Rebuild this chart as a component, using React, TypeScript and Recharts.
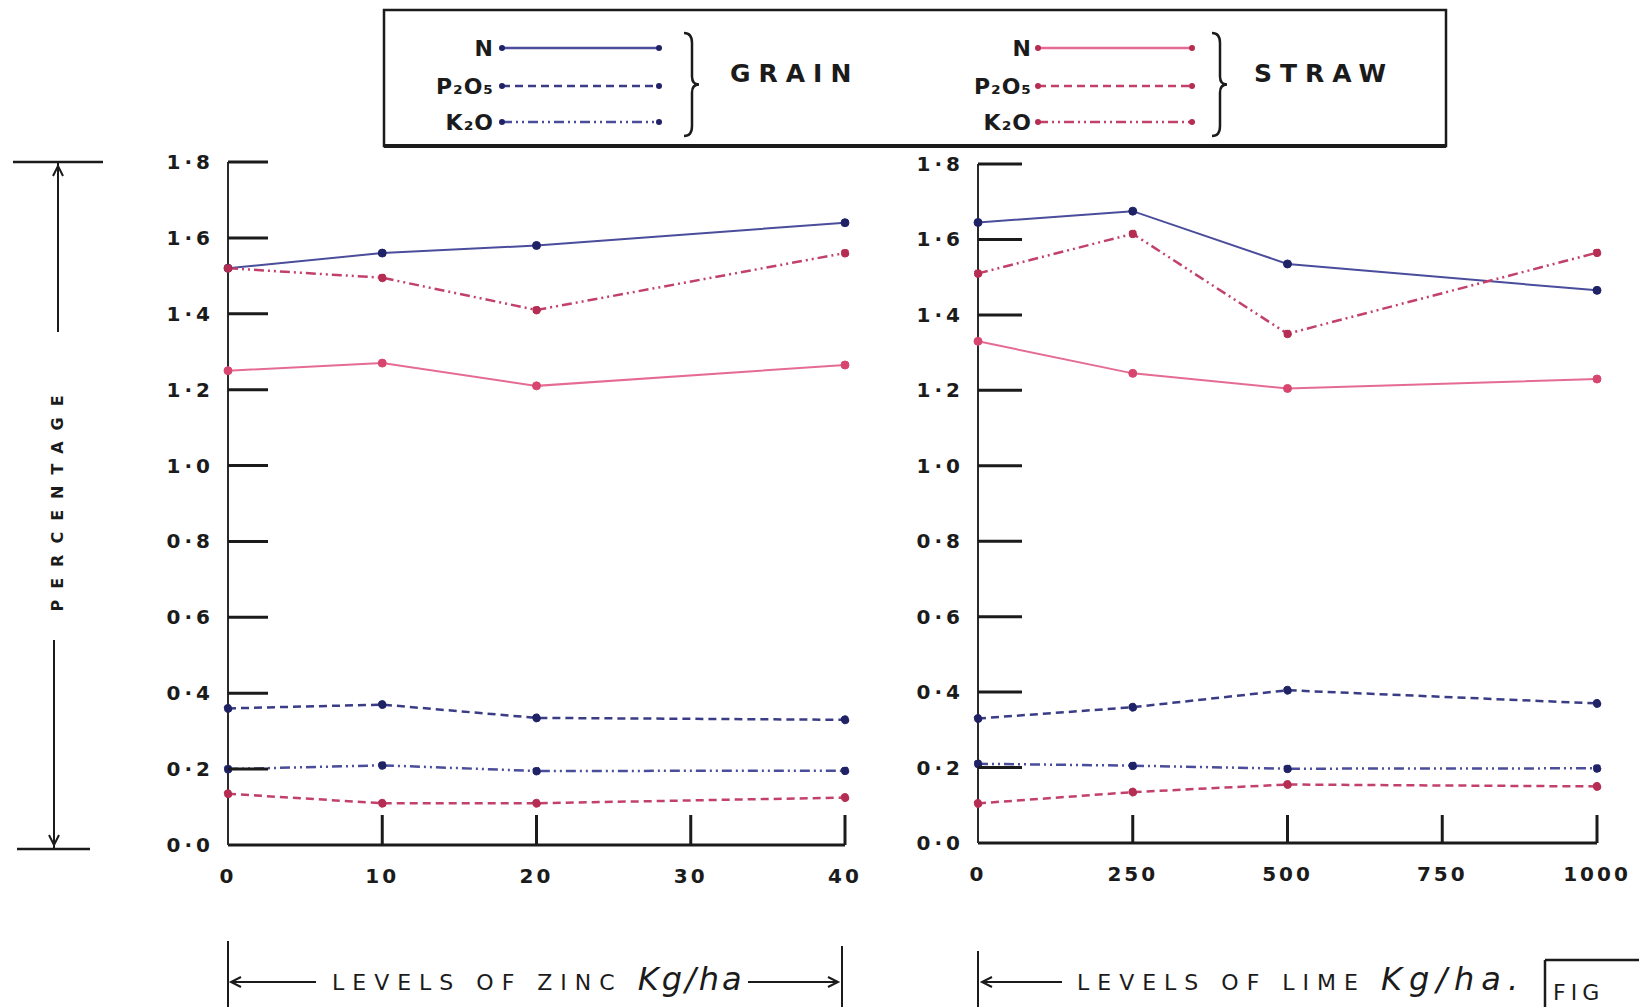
import React from 'react';
import { LineChart, Line, XAxis, YAxis } from 'recharts';

// ---------- data ----------
const zincLevels = [0, 10, 20, 40];
const zincTicks = [0, 10, 20, 30, 40];
const zincGrainN = [1.52, 1.56, 1.58, 1.64];
const zincGrainP = [0.36, 0.37, 0.335, 0.33];
const zincGrainK = [0.2, 0.21, 0.195, 0.196];
const zincStrawN = [1.25, 1.27, 1.21, 1.265];
const zincStrawP = [0.135, 0.11, 0.11, 0.125];
const zincStrawK = [1.52, 1.495, 1.41, 1.56];

const limeLevels = [0, 250, 500, 1000];
const limeTicks = [0, 250, 500, 750, 1000];
const limeGrainN = [1.645, 1.675, 1.535, 1.465];
const limeGrainP = [0.33, 0.36, 0.405, 0.37];
const limeGrainK = [0.21, 0.205, 0.197, 0.198];
const limeStrawN = [1.33, 1.245, 1.205, 1.23];
const limeStrawP = [0.105, 0.135, 0.155, 0.15];
const limeStrawK = [1.51, 1.615, 1.35, 1.565];

const yTicks = [0, 0.2, 0.4, 0.6, 0.8, 1.0, 1.2, 1.4, 1.6, 1.8];
const nutrientLabels = ['N', 'P₂O₅', 'K₂O'];

// ---------- styles ----------
const INK = '#1b1b1b';
const NAVY_LINE = '#4a4c9c';
const NAVY_DASH = '#3a3c86';
const NAVY_DOT = '#1f2366';
const PINK = '#e56b92';
const PINK_DOT = '#d8466f';
const CRIMSON = '#c2416a';
const CRIMSON_DOT = '#b52d52';
const DASH = '8 5';
const DASH_DOT = '10 4 2 4 2 4';
const FONT = '"DejaVu Sans", "Liberation Sans", sans-serif';

function buildRows(levels: number[], gN: number[], gP: number[], gK: number[], sN: number[], sP: number[], sK: number[]) {
  return levels.map((x, i) => ({ x, gN: gN[i], gP: gP[i], gK: gK[i], sN: sN[i], sP: sP[i], sK: sK[i] }));
}

const zincData = buildRows(zincLevels, zincGrainN, zincGrainP, zincGrainK, zincStrawN, zincStrawP, zincStrawK);
const limeData = buildRows(limeLevels, limeGrainN, limeGrainP, limeGrainK, limeStrawN, limeStrawP, limeStrawK);

const fmt = (v: number) => v.toFixed(1).replace('.', '·');

const YTick = (props: any) => {
  const { x, y, payload, tickLen, gap } = props;
  const axisX = x + gap;
  const v = payload.value;
  return (
    <g>
      {v > 0 && <line x1={axisX} x2={axisX + tickLen} y1={y} y2={y} stroke={INK} strokeWidth={3} />}
      <text x={x} y={y} dy="0.35em" textAnchor="end" fontFamily={FONT} fontWeight="bold" fontSize={20} letterSpacing={4} fill={INK}>
        {fmt(v)}
      </text>
    </g>
  );
};

const XTick = (props: any) => {
  const { x, y, payload, tickLen } = props;
  const v = payload.value;
  return (
    <g>
      {v > 0 && <line x1={x} x2={x} y1={y} y2={y - tickLen} stroke={INK} strokeWidth={3} />}
      <text x={x} y={y + 31} dy="0.35em" textAnchor="middle" fontFamily={FONT} fontWeight="bold" fontSize={20} letterSpacing={3} fill={INK}>
        {v}
      </text>
    </g>
  );
};

const dotStyle = (c: string) => ({ r: 4, fill: c, stroke: c, strokeWidth: 1 });

function Panel(props: { data: any[]; ticks: number[]; domainMax: number; left: number; top: number; width: number; height: number; marginTop: number; yTickLen: number; xTickLen: number }) {
  const { data, ticks, domainMax, left, top, width, height, marginTop, yTickLen, xTickLen } = props;
  return (
    <div style={{ position: 'absolute', left, top, width, height }}>
      <LineChart width={width} height={height} data={data} margin={{ top: marginTop, right: 40, bottom: 5, left: 28 }} style={{ overflow: 'visible' }}>
        <XAxis
          dataKey="x"
          type="number"
          domain={[0, domainMax]}
          ticks={ticks}
          interval={0}
          height={50}
          tickSize={0}
          tickMargin={0}
          tickLine={false}
          axisLine={{ stroke: INK, strokeWidth: 3 }}
          tick={<XTick tickLen={xTickLen} />}
        />
        <YAxis
          type="number"
          domain={[0, 1.8]}
          ticks={yTicks}
          interval={0}
          width={60}
          tickSize={0}
          tickMargin={14}
          tickLine={false}
          axisLine={{ stroke: '#2a2a2a', strokeWidth: 2 }}
          tick={<YTick tickLen={yTickLen} gap={14} />}
        />
        <Line dataKey="gN" stroke={NAVY_LINE} strokeWidth={2} dot={dotStyle(NAVY_DOT)} activeDot={false} isAnimationActive={false} />
        <Line dataKey="gP" stroke={NAVY_DASH} strokeWidth={2.5} strokeDasharray={DASH} dot={dotStyle(NAVY_DOT)} activeDot={false} isAnimationActive={false} />
        <Line dataKey="gK" stroke={NAVY_LINE} strokeWidth={2.5} strokeDasharray={DASH_DOT} dot={dotStyle(NAVY_DOT)} activeDot={false} isAnimationActive={false} />
        <Line dataKey="sN" stroke={PINK} strokeWidth={2} dot={dotStyle(PINK_DOT)} activeDot={false} isAnimationActive={false} />
        <Line dataKey="sP" stroke={CRIMSON} strokeWidth={2.5} strokeDasharray={DASH} dot={dotStyle(CRIMSON_DOT)} activeDot={false} isAnimationActive={false} />
        <Line dataKey="sK" stroke={CRIMSON} strokeWidth={2.5} strokeDasharray={DASH_DOT} dot={dotStyle(CRIMSON_DOT)} activeDot={false} isAnimationActive={false} />
      </LineChart>
    </div>
  );
}

function brace(x: number, y1: number, y2: number) {
  const m = (y1 + y2) / 2;
  return `M${x},${y1} Q${x + 8},${y1} ${x + 8},${y1 + 10} L${x + 8},${m - 8} Q${x + 8},${m} ${x + 15},${m} Q${x + 8},${m} ${x + 8},${m + 8} L${x + 8},${y2 - 10} Q${x + 8},${y2} ${x},${y2}`;
}

function LegendGroup(props: { labelX: number; x1: number; x2: number; braceX: number; title: string; titleX: number; colors: string[]; dots: string[] }) {
  const { labelX, x1, x2, braceX, title, titleX, colors, dots } = props;
  const rows = [48, 86, 122];
  const dashes = [undefined, DASH, DASH_DOT];
  return (
    <g>
      {nutrientLabels.map((lab, i) => (
        <g key={lab}>
          <text x={labelX} y={rows[i]} dy="0.35em" textAnchor="end" fontFamily={FONT} fontWeight="bold" fontSize={22} letterSpacing={1} fill={INK}>{lab}</text>
          <line x1={x1} x2={x2} y1={rows[i]} y2={rows[i]} stroke={colors[i]} strokeWidth={2.5} strokeDasharray={dashes[i]} />
          <circle cx={x1} cy={rows[i]} r={3} fill={dots[i]} />
          <circle cx={x2} cy={rows[i]} r={3} fill={dots[i]} />
        </g>
      ))}
      <path d={brace(braceX, 33, 136)} fill="none" stroke={INK} strokeWidth={2.5} />
      <text x={titleX} y={73} dy="0.35em" fontFamily={FONT} fontWeight="bold" fontSize={25} letterSpacing={8} fill={INK}>{title}</text>
    </g>
  );
}

function Decorations() {
  return (
    <svg width={1639} height={1007} style={{ position: 'absolute', left: 0, top: 0, pointerEvents: 'none' }}>
      {/* legend box */}
      <rect x={384} y={10} width={1062} height={136} fill="none" stroke={INK} strokeWidth={2.5} />
      <line x1={384} x2={1446} y1={146} y2={146} stroke={INK} strokeWidth={4} />
      <LegendGroup labelX={494} x1={502} x2={659} braceX={684} title="GRAIN" titleX={730} colors={[NAVY_LINE, NAVY_DASH, NAVY_LINE]} dots={[NAVY_DOT, NAVY_DOT, NAVY_DOT]} />
      <LegendGroup labelX={1032} x1={1038} x2={1192} braceX={1212} title="STRAW" titleX={1254} colors={[PINK, CRIMSON, CRIMSON]} dots={[CRIMSON_DOT, CRIMSON_DOT, CRIMSON_DOT]} />

      {/* percentage label */}
      <line x1={13} x2={103} y1={162} y2={162} stroke={INK} strokeWidth={2.5} />
      <line x1={58} x2={58} y1={163} y2={332} stroke={INK} strokeWidth={2} />
      <path d="M53,176 L58,166 L63,176" fill="none" stroke={INK} strokeWidth={2} />
      <line x1={54} x2={54} y1={640} y2={849} stroke={INK} strokeWidth={2} />
      <path d="M49,835 L54,845 L59,835" fill="none" stroke={INK} strokeWidth={2} />
      <line x1={17} x2={90} y1={849} y2={849} stroke={INK} strokeWidth={2.5} />
      <text x={57} y={498} transform="rotate(-90 57 498)" textAnchor="middle" dy="0.35em" fontFamily={FONT} fontWeight="bold" fontSize={16} letterSpacing={11} fill={INK}>PERCENTAGE</text>

      {/* zinc axis title */}
      <line x1={228} x2={228} y1={941} y2={1007} stroke={INK} strokeWidth={2} />
      <line x1={842} x2={842} y1={946} y2={1007} stroke={INK} strokeWidth={2} />
      <line x1={231} x2={316} y1={982} y2={982} stroke={INK} strokeWidth={2} />
      <path d="M241,977 L231,982 L241,987" fill="none" stroke={INK} strokeWidth={2} />
      <text x={332} y={982} dy="0.35em" fontFamily={FONT} fontSize={22} letterSpacing={8} fill={INK}>
        LEVELS OF ZINC <tspan fontSize={32} fontStyle="italic" letterSpacing={3}>Kg/ha</tspan>
      </text>
      <line x1={748} x2={838} y1={982} y2={982} stroke={INK} strokeWidth={2} />
      <path d="M828,977 L838,982 L828,987" fill="none" stroke={INK} strokeWidth={2} />

      {/* lime axis title */}
      <line x1={978} x2={978} y1={951} y2={1007} stroke={INK} strokeWidth={2} />
      <line x1={982} x2={1062} y1={982} y2={982} stroke={INK} strokeWidth={2} />
      <path d="M992,977 L982,982 L992,987" fill="none" stroke={INK} strokeWidth={2} />
      <text x={1077} y={982} dy="0.35em" fontFamily={FONT} fontSize={22} letterSpacing={8} fill={INK}>
        LEVELS OF LIME <tspan fontSize={32} fontStyle="italic" letterSpacing={7}>Kg/ha.</tspan>
      </text>

      {/* FIG box */}
      <line x1={1545} x2={1639} y1={960} y2={960} stroke={INK} strokeWidth={2.5} />
      <line x1={1545} x2={1545} y1={960} y2={1007} stroke={INK} strokeWidth={2.5} />
      <text x={1553} y={992} dy="0.35em" fontFamily={FONT} fontSize={22} letterSpacing={5} fill={INK}>FIG</text>
    </svg>
  );
}

export default function App() {
  return (
    <div style={{ position: 'absolute', left: 0, top: 0, width: 1639, height: 1007, background: '#ffffff', overflow: 'hidden' }}>
      <Panel data={zincData} ticks={zincTicks} domainMax={40} left={140} top={140} width={745} height={760} marginTop={22} yTickLen={40} xTickLen={30} />
      <Panel data={limeData} ticks={limeTicks} domainMax={1000} left={890} top={140} width={747} height={758} marginTop={24} yTickLen={44} xTickLen={28} />
      <Decorations />
    </div>
  );
}
